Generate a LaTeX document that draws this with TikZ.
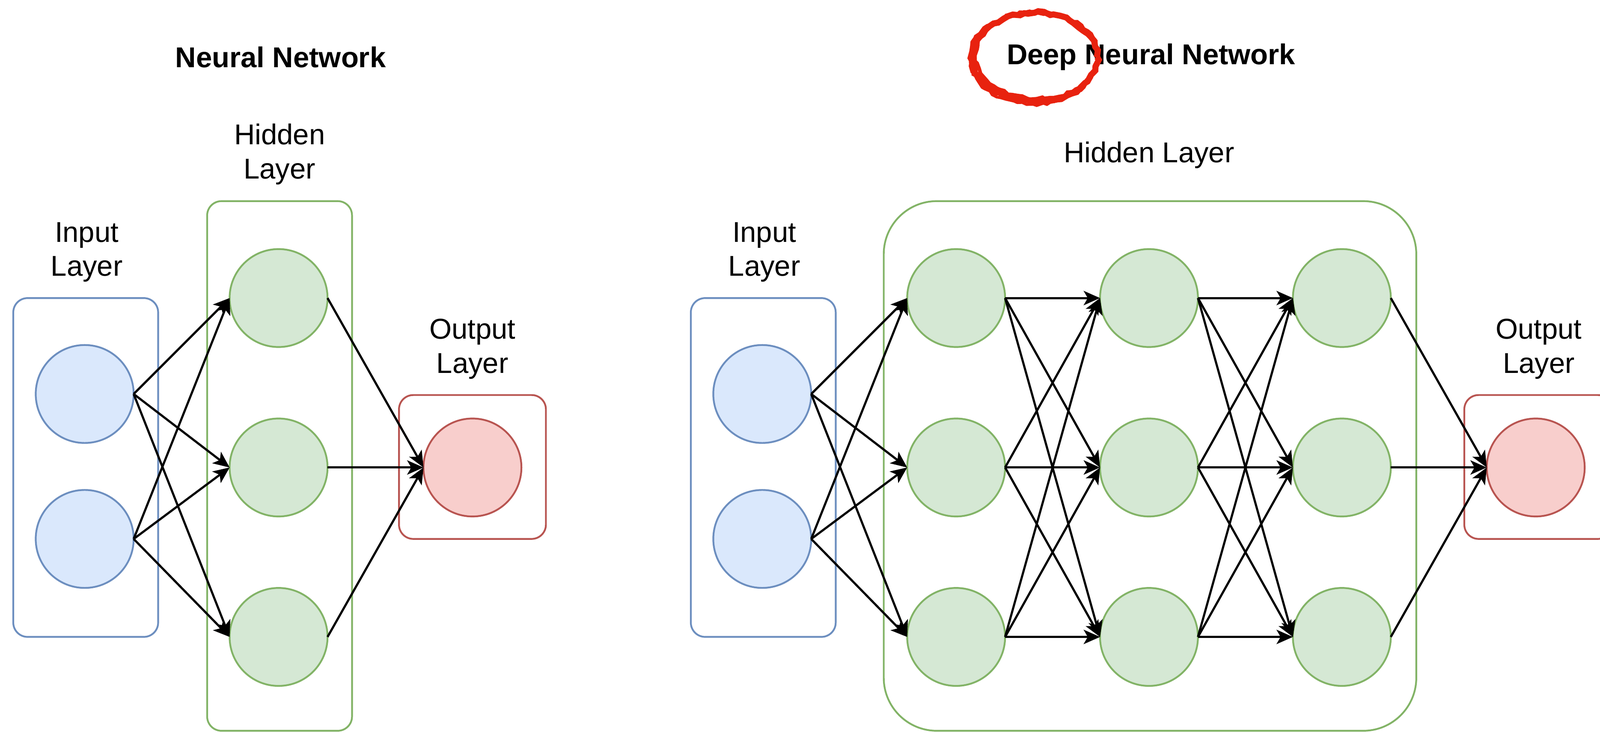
\documentclass[tikz,border=0pt]{standalone}
\usepackage{fontspec}
\setmainfont{Liberation Sans}
\usetikzlibrary{arrows.meta,decorations.pathmorphing}
\definecolor{blueF}{HTML}{DAE8FC}
\definecolor{blueS}{HTML}{6C8EBF}
\definecolor{greenF}{HTML}{D5E8D4}
\definecolor{greenS}{HTML}{82B366}
\definecolor{redF}{HTML}{F8CECC}
\definecolor{redS}{HTML}{B85450}
\definecolor{markred}{HTML}{E8220F}
\begin{document}
\begin{tikzpicture}[x=0.02cm,y=-0.02cm,
  neuron/.style={circle, line width=1pt, minimum size=1.92cm, inner sep=0pt, outer sep=0pt},
  inn/.style={neuron, draw=blueS, fill=blueF},
  hid/.style={neuron, draw=greenS, fill=greenF},
  outn/.style={neuron, draw=redS, fill=redF},
  layer/.style={rectangle, line width=1pt, inner sep=0pt, rounded corners=0.28cm},
  lbl/.style={font=\fontsize{16}{19}\selectfont, align=center},
  ttl/.style={font=\fontsize{16}{19}\selectfont\bfseries},
  conn/.style={-{Stealth[length=0.32cm,width=0.28cm,inset=0.08cm]}, line width=1.2pt}
]
\useasboundingbox (0,0) rectangle (1568,718);

% ---------- Left: Neural Network ----------
\node[ttl] (t1) at (275,56) {Neural Network};
\node[lbl] (li) at (85,247) {Input\\Layer};
\node[lbl] (lh) at (274,151) {Hidden\\Layer};
\node[lbl] (lo) at (463,342) {Output\\Layer};

\node[layer, draw=blueS, minimum width=2.84cm, minimum height=6.64cm] (Lin) at (84,458) {};
\node[layer, draw=greenS, minimum width=2.84cm, minimum height=10.38cm] (Lhid) at (274,456.5) {};
\node[layer, draw=redS, minimum width=2.88cm, minimum height=2.82cm] (Lout) at (463,457.5) {};

\node[inn] (a1) at (83,386) {};
\node[inn] (a2) at (83,528) {};
\node[hid] (b1) at (273,292) {};
\node[hid] (b2) at (273,458) {};
\node[hid] (b3) at (273,624) {};
\node[outn] (c1) at (463,458) {};

\foreach \s in {a1,a2}{\foreach \t in {b1,b2,b3}{\draw[conn] (\s.east) -- (\t.west);}}
\foreach \s in {b1,b2,b3}{\draw[conn] (\s.east) -- (c1.west);}

% ---------- Right: Deep Neural Network ----------
\node[ttl] (t2) at (1128,56) {Deep Neural Network};
\node[lbl] (ri) at (749,247) {Input\\Layer};
\node[lbl] (rh) at (1126,152) {Hidden Layer};
\node[lbl] (ro) at (1508,342) {Output\\Layer};

\node[layer, draw=blueS, minimum width=2.84cm, minimum height=6.64cm] (Rin) at (748,458) {};
\node[layer, draw=greenS, minimum width=10.44cm, minimum height=10.38cm, rounded corners=1.04cm] (Rhid) at (1127,456.5) {};
\node[layer, draw=redS, minimum width=2.9cm, minimum height=2.82cm] (Rout) at (1507.5,457.5) {};

\node[inn] (p1) at (747,386) {};
\node[inn] (p2) at (747,528) {};
\node[hid] (q1) at (937,292) {};
\node[hid] (q2) at (937,458) {};
\node[hid] (q3) at (937,624) {};
\node[hid] (r1) at (1126,292) {};
\node[hid] (r2) at (1126,458) {};
\node[hid] (r3) at (1126,624) {};
\node[hid] (s1) at (1315,292) {};
\node[hid] (s2) at (1315,458) {};
\node[hid] (s3) at (1315,624) {};
\node[outn] (o1) at (1505,458) {};

\foreach \s in {p1,p2}{\foreach \t in {q1,q2,q3}{\draw[conn] (\s.east) -- (\t.west);}}
\foreach \s in {q1,q2,q3}{\foreach \t in {r1,r2,r3}{\draw[conn] (\s.east) -- (\t.west);}}
\foreach \s in {r1,r2,r3}{\foreach \t in {s1,s2,s3}{\draw[conn] (\s.east) -- (\t.west);}}
\foreach \s in {s1,s2,s3}{\draw[conn] (\s.east) -- (o1.west);}

% ---------- red hand-drawn mark ----------
\coordinate (mk) at (1014,56);
\draw[markred, line width=3.4pt, decorate, decoration={random steps, segment length=3pt, amplitude=0.9pt}]
  (mk) ellipse [x radius=1.22cm, y radius=0.87cm];
\draw[markred, line width=2pt, decorate, decoration={random steps, segment length=2.5pt, amplitude=0.8pt}]
  ([shift={(0.04cm,0.03cm)}]mk) ellipse [x radius=1.2cm, y radius=0.84cm];
\draw[markred, line width=1.6pt, decorate, decoration={random steps, segment length=2.5pt, amplitude=0.8pt}]
  ([shift={(-0.03cm,-0.02cm)}]mk) ellipse [x radius=1.25cm, y radius=0.9cm];
\end{tikzpicture}
\end{document}
